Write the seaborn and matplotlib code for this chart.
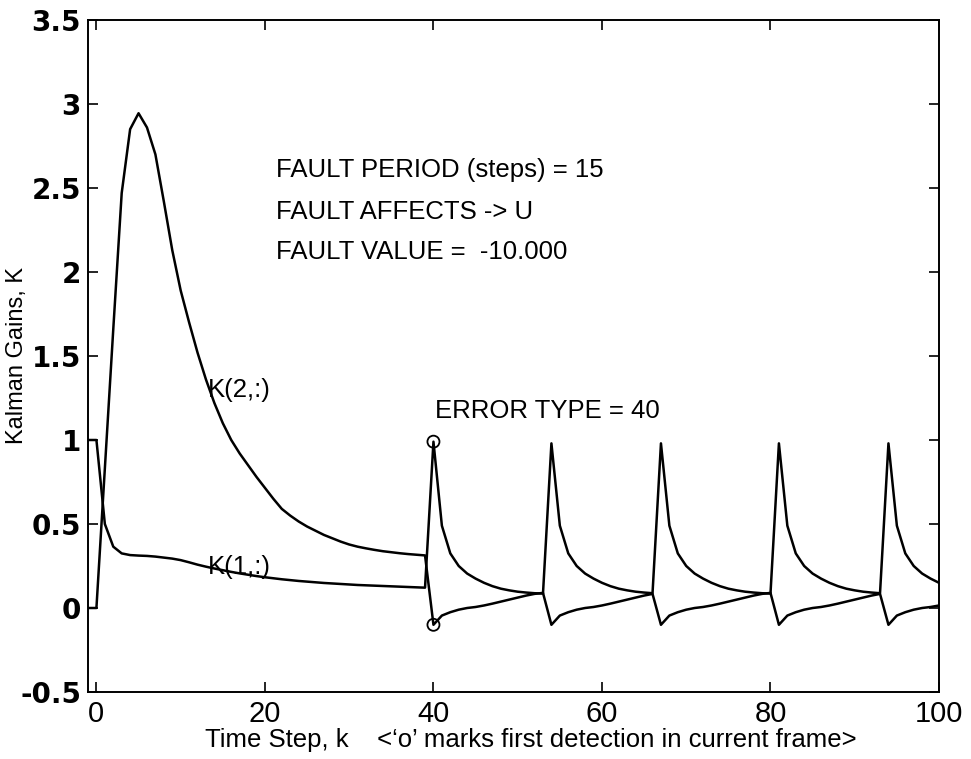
import numpy as np
import seaborn as sns
import matplotlib.pyplot as plt

# time steps (k = -1 .. 100)
steps = list(range(-1, 101))

# Kalman gain K(1,:)
k1_gain = [1.0, 1.0, 0.50, 0.365, 0.325, 0.315, 0.312, 0.31, 0.306, 0.30,
           0.294, 0.285, 0.272, 0.258, 0.246, 0.235, 0.225, 0.215, 0.206, 0.198,
           0.19, 0.183, 0.177, 0.171, 0.166, 0.161, 0.157, 0.153, 0.149, 0.146,
           0.143, 0.14, 0.137, 0.135, 0.133, 0.131, 0.129, 0.127, 0.125, 0.123,
           0.121,
           0.99, 0.49, 0.325, 0.25, 0.205, 0.175, 0.15, 0.13, 0.115, 0.105, 0.097, 0.092, 0.088, 0.086,
           0.98, 0.49, 0.325, 0.25, 0.205, 0.175, 0.15, 0.13, 0.115, 0.105, 0.097, 0.092, 0.088,
           0.98, 0.49, 0.325, 0.25, 0.205, 0.175, 0.15, 0.13, 0.115, 0.105, 0.097, 0.092, 0.088, 0.086,
           0.98, 0.49, 0.325, 0.25, 0.205, 0.175, 0.15, 0.13, 0.115, 0.105, 0.097, 0.092, 0.088,
           0.98, 0.49, 0.325, 0.25, 0.205, 0.175, 0.15]

# Kalman gain K(2,:)
k2_gain = [0.0, 0.0, 0.83, 1.66, 2.47, 2.85, 2.945, 2.86, 2.70, 2.42,
           2.13, 1.89, 1.70, 1.52, 1.36, 1.22, 1.10, 1.00, 0.92, 0.85,
           0.78, 0.715, 0.65, 0.59, 0.55, 0.515, 0.485, 0.46, 0.435, 0.415,
           0.395, 0.378, 0.365, 0.355, 0.346, 0.338, 0.332, 0.326, 0.321, 0.317,
           0.313,
           -0.10, -0.045, -0.025, -0.01, 0.0, 0.006, 0.015, 0.026, 0.038, 0.05, 0.062, 0.074, 0.084, 0.09,
           -0.10, -0.045, -0.025, -0.01, 0.0, 0.006, 0.015, 0.026, 0.038, 0.05, 0.062, 0.074, 0.084,
           -0.10, -0.045, -0.025, -0.01, 0.0, 0.006, 0.015, 0.026, 0.038, 0.05, 0.062, 0.074, 0.084, 0.09,
           -0.10, -0.045, -0.025, -0.01, 0.0, 0.006, 0.015, 0.026, 0.038, 0.05, 0.062, 0.074, 0.084,
           -0.10, -0.045, -0.025, -0.01, 0.0, 0.006, 0.015]

# first detection marks ('o')
detect_k = [40, 40]
detect_val = [0.99, -0.10]

x_ticks = [0, 20, 40, 60, 80, 100]
y_ticks = [-0.5, 0, 0.5, 1, 1.5, 2, 2.5, 3, 3.5]
y_ticklabels = ['-0.5', '0', '0.5', '1', '1.5', '2', '2.5', '3', '3.5']

sns.set_theme(style='white')
plt.rcParams['font.family'] = ['Liberation Sans', 'DejaVu Sans']
plt.rcParams['text.color'] = 'black'
plt.rcParams['axes.labelcolor'] = 'black'

fig = plt.figure(figsize=(9.71, 7.59), dpi=100)
ax = fig.add_axes([88 / 971, 1 - 692 / 759, (939 - 88) / 971, (692 - 20) / 759])

sns.lineplot(x=steps, y=k1_gain, color='black', lw=1.8, ax=ax)
sns.lineplot(x=steps, y=k2_gain, color='black', lw=1.8, ax=ax)
sns.scatterplot(x=detect_k, y=detect_val, marker='o', s=75, facecolors='none',
                edgecolor='black', linewidth=1.3, ax=ax, zorder=5)

ax.set_xlim(-1, 100)
ax.set_ylim(-0.5, 3.5)
ax.set_xticks(x_ticks)
ax.set_xticklabels([str(t) for t in x_ticks], fontsize=21)
ax.set_yticks(y_ticks)
ax.set_yticklabels(y_ticklabels, fontsize=20, fontweight='bold', family='DejaVu Sans')
ax.tick_params(direction='in', length=7, width=1.2, top=True, right=True,
               bottom=True, left=True, colors='black')
ax.tick_params(axis='y', pad=5)
ax.tick_params(axis='x', pad=6)
for sp in ax.spines.values():
    sp.set_color('black')
    sp.set_linewidth(1.4)

ax.set_xlabel('Time Step, k    <\u2018o\u2019 marks first detection in current frame>',
              fontsize=18.5)
ax.xaxis.set_label_coords(0.52, -0.054)
ax.set_ylabel('Kalman Gains, K', fontsize=17)
ax.yaxis.set_label_coords(-0.071, 0.5)

ax.text(21.3, 2.61, 'FAULT PERIOD (steps) = 15', fontsize=18.5, va='center')
ax.text(21.3, 2.36, 'FAULT AFFECTS -> U', fontsize=18.5, va='center')
ax.text(21.3, 2.12, 'FAULT VALUE =  -10.000', fontsize=18.5, va='center')
ax.text(40.2, 1.17, 'ERROR TYPE = 40', fontsize=18.5, va='center')
ax.text(13.2, 1.30, 'K(2,:)', fontsize=18.5, va='center')
ax.text(13.2, 0.245, 'K(1,:)', fontsize=18.5, va='center')

fig.savefig('out.png', dpi=100, facecolor='white')
